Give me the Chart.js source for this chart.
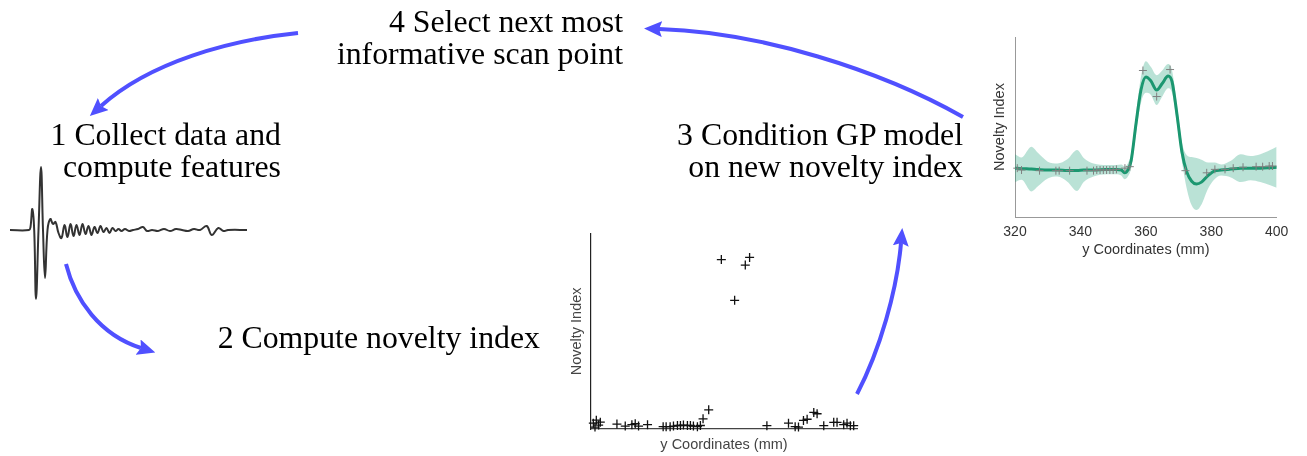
<!DOCTYPE html>
<html>
<head>
<meta charset="utf-8">
<script src="https://cdn.jsdelivr.net/npm/chart.js@4.4.0/dist/chart.umd.min.js"></script>
<style>
  html, body { margin: 0; padding: 0; background: #fff; }
  body { width: 1307px; height: 456px; position: relative; overflow: hidden; }
  canvas { position: absolute; }
  #signal { left: 0; top: 155px; }
  #novelty { left: 560px; top: 228px; }
  #gp { left: 985px; top: 30px; }
  svg { position: absolute; left: 0; top: 0; }
  .step { font-family: "Liberation Serif", "Times New Roman", serif; font-size: 31.8px; fill: #000; }
</style>
</head>
<body>
<canvas id="signal" width="260" height="150"></canvas>
<canvas id="novelty" width="305" height="228"></canvas>
<canvas id="gp" width="310" height="235"></canvas>

<svg width="1307" height="456">
  <defs>
    <marker id="head" markerUnits="userSpaceOnUse" markerWidth="18" markerHeight="16"
            viewBox="0 0 18 16" refX="3" refY="8" orient="auto">
      <path d="M0,0 L18,8 L0,16 L3,8 z" fill="#5050ff"/>
    </marker>
  </defs>
  <g fill="none" stroke="#5050ff" stroke-width="4" marker-end="url(#head)">
    <path d="M298,33 C230,40 150,62 101,106"/>
    <path d="M66,264 C75,300 100,335 141,348"/>
    <path d="M857,394 C880,350 897,290 901,243"/>
    <path d="M963,117 C880,70 760,32 659,29"/>
  </g>
  <g class="step" text-anchor="end">
    <text x="623" y="32">4 Select next most</text>
    <text x="623" y="63.5">informative scan point</text>
    <text x="281" y="145">1 Collect data and</text>
    <text x="281" y="176.5">compute features</text>
    <text x="963" y="145">3 Condition GP model</text>
    <text x="963" y="176.5">on new novelty index</text>
    <text x="540" y="348">2 Compute novelty index</text>
  </g>
</svg>

<script>
// raw signal trace (sample position, amplitude)
const waveX = [10, 29, 30.5, 32.3, 34.2, 36, 38.5, 41, 43, 45, 47.5, 50.3, 53, 55.5, 58.5, 61.5, 64.5, 67.5,
  70.5, 73.5, 76.5, 79.5, 82.5, 85.5, 88.5, 91.5, 94.5, 97.5, 100.5, 103.5, 106.5, 109.5, 112.5, 115.5,
  118.5, 121.5, 125, 129, 133, 138, 143, 147, 152, 158, 164, 170, 176, 182, 188, 194, 200,
  206.7, 211.7, 218.3, 223.3, 228, 247];
const waveY = [0, 0, 3, 21, 0, -69, 0, 63, 0, -48, 0, 11, 6, 8, -3, -8, 5, -7,
  6, -6, 5, -5, 6, -4, 4, -5, 3, -3, 4, -2, 2, -3, 2, -1,
  1, -1, 1, -1, 0, 1, 3, -1, 0, -1, 1, -1, 1, 0, -1, 1, 0,
  4, -5, 2, -1, 0, 0];

// novelty index per scan position
const scanX = [320.7, 321.2, 321.6, 322.3, 322.8, 327.8, 330.3, 332.3, 333.3, 334.3, 337.0,
  341.7, 342.6, 343.8, 344.8, 346.0, 346.9, 347.8, 349.0, 349.9, 350.8, 352.0, 352.9,
  353.7, 355.4, 359.2, 363.2, 366.4, 367.7, 372.9, 379.4, 381.4, 382.4, 383.9, 385.0,
  387.0, 388.0, 390.0, 393.0, 394.0, 396.0, 397.0, 398.0, 399.0];
const scanNovelty = [0.03, 0.01, 0.045, 0.02, 0.035, 0.025, 0.015, 0.022, 0.027, 0.015, 0.022,
  0.012, 0.012, 0.012, 0.015, 0.018, 0.018, 0.02, 0.018, 0.018, 0.015, 0.012, 0.018,
  0.052, 0.098, 0.868, 0.659, 0.84, 0.879, 0.017, 0.03, 0.012, 0.01, 0.044, 0.05,
  0.085, 0.078, 0.017, 0.034, 0.034, 0.022, 0.03, 0.017, 0.017];

// GP posterior: mean and standard deviation
const gpX = [320, 322, 325, 327, 330, 333, 336, 339, 341, 344, 348, 351, 352.5, 353.5, 354.5, 355.5,
  357, 358.5, 360, 361.5, 363.3, 365, 366.8, 368, 369.5, 371, 372.5, 374, 375.5, 377, 379, 381,
  383, 386, 389, 392, 395, 398, 400];
const gpMean = [0.02, 0.015, 0.01, 0.005, 0.0, 0.0, -0.005, -0.005, 0.0, 0.0, 0.005, 0.005, 0.0, -0.03, 0.0, 0.1,
  0.5, 0.86, 1.0, 0.96, 0.86, 0.93, 1.01, 0.95, 0.6, 0.2, -0.02, -0.12, -0.15, -0.13, -0.06, -0.01,
  0.0, 0.01, 0.02, 0.02, 0.02, 0.025, 0.03];
const gpStd = [0.15, 0.12, 0.24, 0.18, 0.09, 0.07, 0.12, 0.22, 0.13, 0.07, 0.05, 0.05, 0.06, 0.07, 0.07, 0.08,
  0.1, 0.14, 0.17, 0.15, 0.16, 0.14, 0.13, 0.12, 0.1, 0.1, 0.18, 0.26, 0.28, 0.24, 0.14, 0.09,
  0.06, 0.09, 0.15, 0.13, 0.15, 0.19, 0.22];

// observations the GP is conditioned on
const obsX = [320.7, 322, 327.5, 332.5, 333.5, 336.7, 342, 344, 345, 346, 347, 348, 349, 350, 351,
  353.6, 355.1, 359.1, 363.3, 367.4, 372.1, 378.6, 381.1, 384.2, 386.7, 389.7, 393.7, 395.7, 397.7, 398.7];
const obsY = [0.02, 0.0, -0.007, -0.007, -0.007, -0.007, -0.007, -0.007, 0.0, 0.0, 0.0, 0.0, 0.0, 0.0, 0.007,
  0.02, 0.036, 1.07, 0.79, 1.08, -0.007, -0.03, 0.007, 0.007, 0.02, 0.03, 0.036, 0.036, 0.043, 0.043];

const xTicks = [320, 340, 360, 380, 400];

Chart.defaults.font.family = '"Liberation Sans", Arial, sans-serif';
Chart.defaults.color = '#333';

const pts = (xs, ys) => xs.map((x, i) => ({ x: x, y: ys[i] }));

// force the axis box to a fixed size so the plot area lands where we want it
const fixed = size => scale => {
    if (scale.isHorizontal()) scale.height = size;
    else scale.width = size;
};

const noPlugins = { legend: { display: false }, tooltip: { enabled: false } };

// waveform
new Chart(document.getElementById('signal'), {
    type: 'line',
    data: {
        datasets: [{
            data: pts(waveX, waveY),
            borderColor: '#333',
            borderWidth: 2,
            pointRadius: 0,
            tension: 0.4
        }]
    },
    options: {
        responsive: false,
        animation: false,
        layout: { padding: 0 },
        plugins: noPlugins,
        scales: {
            x: { type: 'linear', min: 0, max: 260, display: false },
            y: { min: -75, max: 75, display: false }
        }
    }
});

// novelty index scatter
new Chart(document.getElementById('novelty'), {
    type: 'scatter',
    data: {
        datasets: [{
            data: pts(scanX, scanNovelty),
            pointStyle: 'cross',
            pointRadius: 4.5,
            borderColor: '#111',
            borderWidth: 1.3,
            clip: false
        }]
    },
    options: {
        responsive: false,
        animation: false,
        layout: { padding: { top: 5, right: 8, left: 0, bottom: 0 } },
        plugins: noPlugins,
        scales: {
            x: {
                type: 'linear', min: 320, max: 400,
                afterFit: fixed(27),
                ticks: { display: false },
                grid: { display: false, drawTicks: false },
                border: { color: '#444', width: 1.2 },
                title: { display: true, text: 'y Coordinates (mm)', color: '#444',
                    font: { size: 14.5 }, padding: { top: 0, bottom: 2 } }
            },
            y: {
                min: 0, max: 1,
                afterFit: fixed(31),
                ticks: { display: false },
                grid: { display: false, drawTicks: false },
                border: { color: '#222', width: 1.2 },
                title: { display: true, text: 'Novelty Index', color: '#444',
                    font: { size: 14.5 }, padding: { top: 8, bottom: 0 } }
            }
        }
    }
});

// GP model with confidence band
const upper = gpMean.map((m, i) => m + gpStd[i]);
const lower = gpMean.map((m, i) => m - gpStd[i]);

new Chart(document.getElementById('gp'), {
    type: 'line',
    data: {
        datasets: [
            {
                data: pts(obsX, obsY),
                showLine: false,
                pointStyle: 'cross',
                pointRadius: 4,
                borderColor: '#808080',
                borderWidth: 1,
                clip: false
            },
            {
                data: pts(gpX, gpMean),
                borderColor: '#1b9770',
                borderWidth: 3,
                pointRadius: 0,
                cubicInterpolationMode: 'monotone'
            },
            {
                data: pts(gpX, upper),
                borderWidth: 0,
                pointRadius: 0,
                fill: '+1',
                backgroundColor: 'rgba(27,158,119,0.3)',
                cubicInterpolationMode: 'monotone'
            },
            {
                data: pts(gpX, lower),
                borderWidth: 0,
                pointRadius: 0,
                fill: false,
                cubicInterpolationMode: 'monotone'
            }
        ]
    },
    options: {
        responsive: false,
        animation: false,
        layout: { padding: { top: 7, right: 14, left: 0, bottom: 0 } },
        plugins: noPlugins,
        scales: {
            x: {
                type: 'linear', min: 320, max: 400,
                afterFit: fixed(48),
                afterBuildTicks: scale => { scale.ticks = xTicks.map(v => ({ value: v })); },
                ticks: { padding: 6.6, font: { size: 14 }, color: '#333' },
                grid: { display: false, drawTicks: false },
                border: { color: '#999', width: 1 },
                title: { display: true, text: 'y Coordinates (mm)', color: '#333',
                    font: { size: 14.5 }, padding: { top: 0, bottom: 6 } }
            },
            y: {
                min: -0.505, max: 1.43,
                afterFit: fixed(30),
                ticks: { display: false },
                grid: { display: false, drawTicks: false },
                border: { color: '#999', width: 1 },
                title: { display: true, text: 'Novelty Index', color: '#333',
                    font: { size: 14.5 }, padding: { top: 6.3, bottom: 0 } }
            }
        }
    }
});
</script>
</body>
</html>
